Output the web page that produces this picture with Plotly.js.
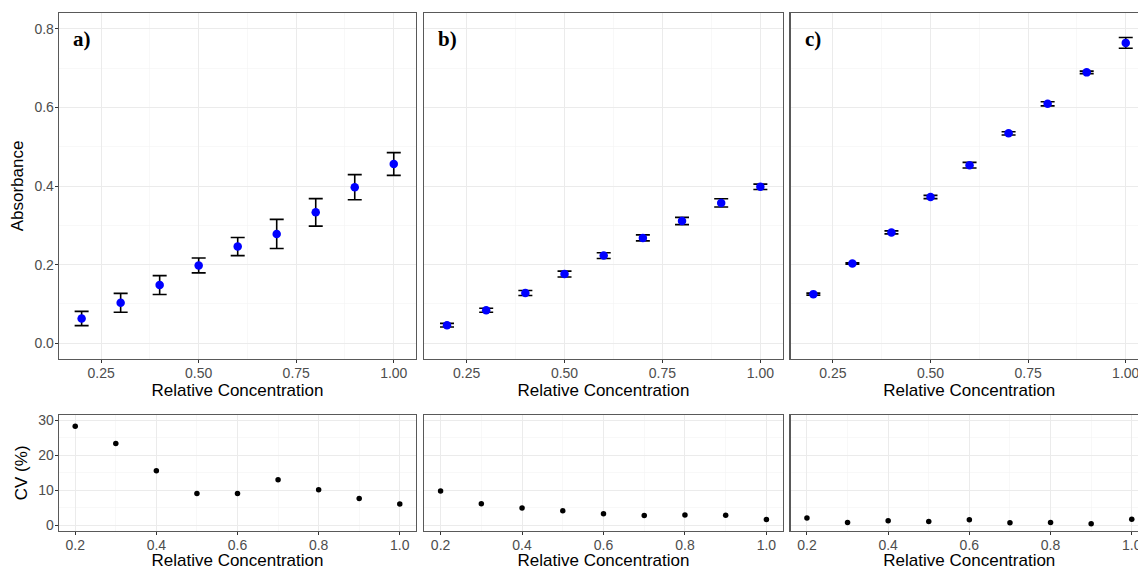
<!DOCTYPE html>
<html>
<head>
<meta charset="utf-8">
<script src="https://cdn.plot.ly/plotly-3.0.1.min.js"></script>
<style>
  html, body { margin: 0; padding: 0; overflow: hidden; background: #fff; }
  #chart { width: 1150px; height: 570px; }
</style>
</head>
<body>
<div id="chart"></div>
<script>
// ---- data ----
const conc = [0.2, 0.3, 0.4, 0.5, 0.6, 0.7, 0.8, 0.9, 1.0];

const absA = [0.063, 0.103, 0.148, 0.198, 0.246, 0.278, 0.333, 0.397, 0.456];
const sdA  = [0.018, 0.024, 0.024, 0.019, 0.023, 0.037, 0.035, 0.032, 0.029];
const absB = [0.046, 0.084, 0.128, 0.176, 0.223, 0.268, 0.311, 0.357, 0.398];
const sdB  = [0.0045, 0.0052, 0.0064, 0.0074, 0.0074, 0.0076, 0.0093, 0.0104, 0.0068];
const absC = [0.125, 0.203, 0.282, 0.372, 0.453, 0.534, 0.609, 0.689, 0.764];
const sdC  = [0.0026, 0.0017, 0.0038, 0.0042, 0.0072, 0.0041, 0.0052, 0.0032, 0.0137];

const cvA = [28.3, 23.4, 15.6, 9.1, 9.1, 13.0, 10.2, 7.7, 6.1];
const cvB = [9.8, 6.2, 5.0, 4.2, 3.3, 2.85, 3.0, 2.9, 1.7];
const cvC = [2.1, 0.85, 1.33, 1.14, 1.6, 0.76, 0.85, 0.47, 1.8];

const panelLabels = ["a)", "b)", "c)"];
const topXTicks = [0.25, 0.50, 0.75, 1.00];
const topXText  = ["0.25", "0.50", "0.75", "1.00"];
const topYTicks = [0.0, 0.2, 0.4, 0.6, 0.8];
const topYText  = ["0.0", "0.2", "0.4", "0.6", "0.8"];
const botXTicks = [0.2, 0.4, 0.6, 0.8, 1.0];
const botXText  = ["0.2", "0.4", "0.6", "0.8", "1.0"];
const botYTicks = [0, 10, 20, 30];
const botYText  = ["0", "10", "20", "30"];

// ---- layout geometry ----
const W = 1150, H = 570;
const colPx = [[59, 416], [424.3, 782.7], [790.7, 1148]];
const topPx = [13, 359], botPx = [415, 530.7];
const xd = p => [p[0] / W, p[1] / W];
const yd = p => [1 - p[1] / H, 1 - p[0] / H];

const FONT = "Liberation Sans, Arial, sans-serif";
const tickFont = {family: FONT, size: 14, color: "#4d4d4d"};
const titleFont = {family: FONT, size: 17, color: "#000"};

function axisBase() {
  return {
    showline: true, mirror: true, linecolor: "#595959", linewidth: 1.3,
    showgrid: true, gridcolor: "#ebebeb", gridwidth: 1,
    zeroline: false, ticks: "outside", ticklen: 3, tickcolor: "#333333", tickwidth: 1,
    tickfont: tickFont, tickmode: "array", ticklabelstandoff: -2
  };
}

const absSets = [[absA, sdA], [absB, sdB], [absC, sdC]];
const cvSets = [cvA, cvB, cvC];
const traces = [];
const layout = {
  width: W, height: H,
  margin: {l: 0, r: 0, t: 0, b: 0},
  paper_bgcolor: "#fff", plot_bgcolor: "#fff",
  showlegend: false,
  annotations: []
};

for (let i = 0; i < 3; i++) {
  const tIdx = i + 1, bIdx = i + 4;
  const tx = "x" + (tIdx === 1 ? "" : tIdx), ty = "y" + (tIdx === 1 ? "" : tIdx);
  const bx = "x" + bIdx, by = "y" + bIdx;
  traces.push({
    type: "scatter", mode: "markers", x: conc, y: absSets[i][0],
    xaxis: tx, yaxis: ty,
    marker: {color: "#0000ff", size: 8.5},
    error_y: {type: "data", array: absSets[i][1], visible: true, color: "#000", thickness: 1.6, width: 7},
    cliponaxis: false
  });
  traces.push({
    type: "scatter", mode: "markers", x: conc, y: cvSets[i],
    xaxis: bx, yaxis: by,
    marker: {color: "#000", size: 5.5}
  });

  const txa = Object.assign(axisBase(), {
    domain: xd(colPx[i]), range: [0.142, 1.057], anchor: ty,
    tickvals: topXTicks, ticktext: topXText,
    minor: {tickvals: [0.375, 0.625, 0.875], showgrid: true, gridcolor: "#f3f3f3", gridwidth: 0.6, ticks: ""},
    title: {text: "Relative Concentration", font: titleFont, standoff: 2}
  });
  const tya = Object.assign(axisBase(), {
    domain: yd(topPx), range: [-0.04, 0.84], anchor: tx,
    tickvals: topYTicks, ticktext: topYText,
    minor: {tickvals: [0.1, 0.3, 0.5, 0.7], showgrid: true, gridcolor: "#f3f3f3", gridwidth: 0.6, ticks: ""}
  });
  const bxa = Object.assign(axisBase(), {
    domain: xd(colPx[i]), range: [0.16, 1.04], anchor: by,
    tickvals: botXTicks, ticktext: botXText,
    minor: {tickvals: [0.3, 0.5, 0.7, 0.9], showgrid: true, gridcolor: "#f3f3f3", gridwidth: 0.6, ticks: ""},
    title: {text: "Relative Concentration", font: titleFont, standoff: 2}
  });
  const bya = Object.assign(axisBase(), {
    domain: yd(botPx), range: [-1.5, 31.5], anchor: bx,
    tickvals: botYTicks, ticktext: botYText,
    minor: {tickvals: [5, 15, 25], showgrid: true, gridcolor: "#f3f3f3", gridwidth: 0.6, ticks: ""}
  });
  if (i === 0) {
    tya.title = {text: "Absorbance", font: titleFont, standoff: 6};
    bya.title = {text: "CV (%)", font: titleFont, standoff: 6};
  } else {
    tya.showticklabels = false; tya.ticks = "";
    bya.showticklabels = false; bya.ticks = "";
  }
  layout["xaxis" + (tIdx === 1 ? "" : tIdx)] = txa;
  layout["yaxis" + (tIdx === 1 ? "" : tIdx)] = tya;
  layout["xaxis" + bIdx] = bxa;
  layout["yaxis" + bIdx] = bya;

  layout.annotations.push({
    text: "<b>" + panelLabels[i] + "</b>",
    xref: tx + " domain", yref: ty + " domain",
    x: 0.034, y: 0.925, xanchor: "left", yanchor: "middle",
    showarrow: false,
    font: {family: "Liberation Serif, DejaVu Serif, serif", size: 21, color: "#000"}
  });
}

Plotly.newPlot("chart", traces, layout, {displayModeBar: false, staticPlot: true});
</script>
</body>
</html>
